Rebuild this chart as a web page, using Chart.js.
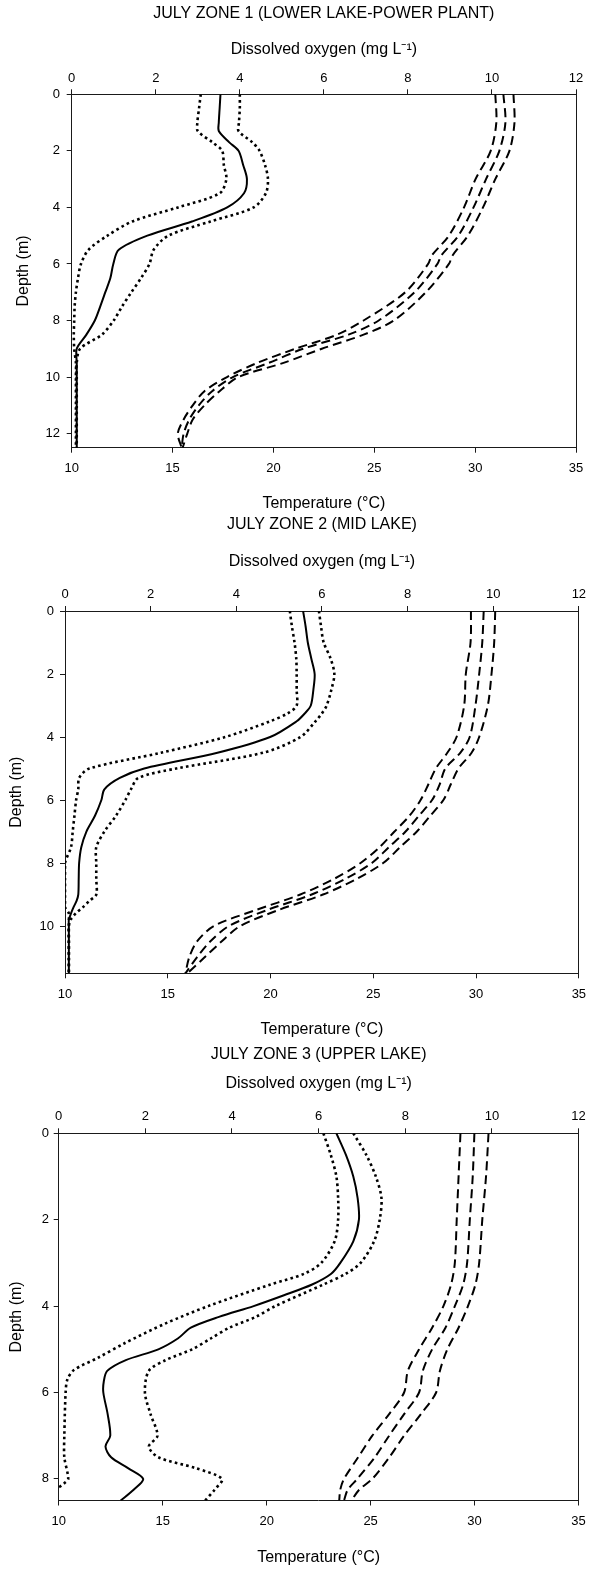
<!DOCTYPE html>
<html>
<head>
<meta charset="utf-8">
<script src="https://cdn.jsdelivr.net/npm/chart.js@4/dist/chart.umd.min.js"></script>
<style>
  html, body { margin: 0; padding: 0; background: #ffffff; }
  #wrap { position: relative; width: 594px; height: 1572px; }
  canvas { position: absolute; left: 0; }
</style>
</head>
<body>
<div id="wrap">
  <canvas id="zone1" width="594" height="515" style="top:0px"></canvas>
  <canvas id="zone2" width="594" height="528" style="top:515px"></canvas>
  <canvas id="zone3" width="594" height="529" style="top:1043px"></canvas>
</div>
<script>
// ---- shared axis ticks ----
const doTicks = [0, 2, 4, 6, 8, 10, 12];
const tempTicks = [10, 15, 20, 25, 30, 35];

// ---- Zone 1 (lower lake - power plant) ----
const z1Title = 'JULY ZONE 1 (LOWER LAKE-POWER PLANT)';
const z1DepthTicks = [0, 2, 4, 6, 8, 10, 12];
const z1DepthMax = 12.5;
const z1DoDepth = [0, 0.5, 1, 1.3, 1.7, 2, 2.5, 3, 3.5, 4, 4.5, 5, 5.5, 6, 6.5, 7, 7.5, 8, 8.5, 9, 9.5, 10, 11, 12, 12.5];
const z1DoMean  = [3.54, 3.52, 3.5, 3.5, 3.75, 3.97, 4.08, 4.17, 4.1, 3.7, 2.86, 1.8, 1.12, 0.99, 0.92, 0.8, 0.68, 0.55, 0.35, 0.12, 0.12, 0.12, 0.12, 0.12, 0.12];
const z1DoLow   = [3.07, 3.03, 2.99, 3.0, 3.35, 3.58, 3.62, 3.68, 3.52, 2.53, 1.44, 0.85, 0.4, 0.22, 0.15, 0.1, 0.07, 0.06, 0.05, 0.06, 0.1, 0.1, 0.1, 0.1, 0.1];
const z1DoHigh  = [4.0, 4.0, 3.98, 3.97, 4.3, 4.47, 4.6, 4.67, 4.62, 4.33, 3.3, 2.3, 1.95, 1.85, 1.65, 1.42, 1.2, 1.0, 0.72, 0.2, 0.12, 0.12, 0.12, 0.12, 0.12];
const z1TempDepth = [0, 1, 2, 3, 4, 5, 5.7, 6, 7, 8, 8.5, 9, 9.5, 10, 10.5, 11, 11.5, 12, 12.5];
const z1TempLow  = [31.0, 31.05, 30.77, 30.02, 29.45, 28.7, 27.85, 27.67, 26.54, 24.47, 23.16, 21.09, 19.2, 17.7, 16.58, 16.0, 15.55, 15.26, 15.45];
const z1TempMean = [31.4, 31.5, 31.2, 30.54, 29.92, 29.17, 28.32, 28.13, 27.0, 25.22, 23.72, 21.47, 19.77, 17.99, 16.96, 16.3, 15.83, 15.55, 15.45];
const z1TempHigh = [31.9, 31.95, 31.7, 31.0, 30.39, 29.64, 28.88, 28.7, 27.56, 25.97, 24.47, 22.4, 20.5, 18.27, 17.33, 16.58, 16.0, 15.73, 15.5];

// ---- Zone 2 (mid lake) ----
const z2Title = 'JULY ZONE 2 (MID LAKE)';
const z2DepthTicks = [0, 2, 4, 6, 8, 10];
const z2DepthMax = 11.5;
const z2DoDepth = [0, 0.5, 1, 1.5, 2, 2.5, 3, 3.25, 3.5, 4, 4.5, 5, 5.3, 5.66, 6, 6.5, 7, 7.5, 8, 8.5, 9, 9.2, 9.4, 9.6, 9.8, 10, 10.5, 11, 11.5];
const z2DoMean  = [5.56, 5.62, 5.67, 5.75, 5.83, 5.8, 5.74, 5.6, 5.41, 4.79, 3.56, 1.85, 1.28, 0.92, 0.85, 0.7, 0.5, 0.38, 0.33, 0.32, 0.31, 0.27, 0.2, 0.14, 0.09, 0.09, 0.09, 0.09, 0.09];
const z2DoLow   = [5.25, 5.3, 5.36, 5.4, 5.41, 5.41, 5.41, 5.2, 4.79, 3.74, 2.24, 0.57, 0.33, 0.31, 0.26, 0.22, 0.18, 0.14, 0.0, 0.0, 0.0, 0.0, 0.0, 0.09, 0.09, 0.09, 0.09, 0.09, 0.09];
const z2DoHigh  = [5.93, 5.98, 6.04, 6.2, 6.29, 6.22, 6.11, 6.0, 5.85, 5.5, 4.62, 2.6, 1.71, 1.54, 1.41, 1.19, 0.92, 0.73, 0.73, 0.73, 0.73, 0.57, 0.42, 0.25, 0.13, 0.09, 0.09, 0.09, 0.09];
const z2TempDepth = [0, 1, 2, 3, 4, 4.5, 5, 5.5, 6, 6.5, 7, 7.5, 8, 8.5, 9, 9.5, 10, 10.5, 11, 11.5];
const z2TempLow  = [29.75, 29.73, 29.5, 29.42, 29.05, 28.6, 28.04, 27.68, 27.3, 26.76, 26.03, 25.3, 24.38, 23.1, 21.45, 19.25, 17.24, 16.41, 16.04, 15.86];
const z2TempMean = [30.37, 30.3, 30.15, 29.97, 29.69, 29.23, 28.5, 28.23, 27.86, 27.22, 26.57, 25.75, 24.93, 23.65, 22.0, 19.8, 17.97, 17.05, 16.41, 15.86];
const z2TempHigh = [30.93, 30.88, 30.75, 30.57, 30.15, 29.78, 29.14, 28.77, 28.41, 27.77, 27.12, 26.3, 25.48, 24.2, 22.55, 20.35, 18.52, 17.6, 16.78, 15.95];

// ---- Zone 3 (upper lake) ----
const z3Title = 'JULY ZONE 3 (UPPER LAKE)';
const z3DepthTicks = [0, 2, 4, 6, 8];
const z3DepthMax = 8.5;
const z3DoMeanDepth = [0, 0.5, 1, 1.5, 2, 2.5, 3, 3.25, 3.5, 3.75, 4, 4.25, 4.5, 4.75, 5, 5.25, 5.5, 5.75, 6, 6.5, 7, 7.25, 7.5, 7.75, 8, 8.25, 8.5];
const z3DoMean = [6.41, 6.63, 6.8, 6.9, 6.93, 6.8, 6.5, 6.29, 5.85, 5.2, 4.5, 3.7, 3.05, 2.75, 2.3, 1.55, 1.12, 1.04, 1.03, 1.13, 1.19, 1.08, 1.21, 1.6, 1.95, 1.73, 1.43];
const z3DoLowDepth = [0, 0.5, 1, 1.5, 2, 2.5, 3, 3.25, 3.5, 4, 4.4, 4.86, 5.2, 5.48, 5.7, 6, 7, 7.5, 8, 8.1, 8.2];
const z3DoLow = [6.11, 6.28, 6.41, 6.45, 6.45, 6.37, 6.06, 5.67, 4.89, 3.45, 2.47, 1.52, 0.9, 0.35, 0.2, 0.16, 0.13, 0.13, 0.22, 0.13, 0.0];
const z3DoHighDepth = [0, 0.5, 1, 1.5, 2, 2.5, 3, 3.25, 3.5, 4, 4.25, 4.5, 4.75, 5, 5.25, 5.5, 6, 6.5, 7, 7.25, 7.5, 7.75, 8, 8.25, 8.5];
const z3DoHigh = [6.8, 7.1, 7.32, 7.45, 7.41, 7.28, 6.97, 6.63, 6.11, 5.0, 4.55, 3.94, 3.51, 3.08, 2.47, 2.08, 1.99, 2.12, 2.28, 2.08, 2.3, 3.16, 3.77, 3.6, 3.38];
const z3TempDepth = [0, 1, 2, 3, 3.5, 4, 4.5, 5, 5.5, 6, 6.5, 7, 7.5, 8, 8.25, 8.5];
const z3TempLow  = [29.32, 29.23, 29.14, 29.05, 28.87, 28.5, 27.96, 27.33, 26.79, 26.61, 25.89, 25.08, 24.4, 23.72, 23.54, 23.49];
const z3TempMean = [29.99, 29.91, 29.77, 29.64, 29.45, 29.05, 28.6, 27.96, 27.51, 27.33, 26.61, 25.89, 25.2, 24.36, 23.9, 23.72];
const z3TempHigh = [30.67, 30.55, 30.37, 30.22, 30.04, 29.68, 29.23, 28.69, 28.33, 28.15, 27.42, 26.61, 25.9, 25.08, 24.45, 24.08];

// ---- drawing ----
const FONT = "'Liberation Sans', Arial, Helvetica, sans-serif";
const INK = '#000000';
const AXIS = '#1a1a1a';

function pts(xs, ys) {
  return xs.map((x, i) => ({ x: x, y: ys[i] }));
}

function line(data, axis, style) {
  const base = {
    data: data,
    xAxisID: axis,
    yAxisID: 'y',
    showLine: true,
    fill: false,
    pointRadius: 0,
    pointHoverRadius: 0,
    borderColor: INK,
    tension: 0.3,
    borderCapStyle: 'butt',
    borderJoinStyle: 'round'
  };
  if (style === 'solid') { base.borderWidth = 2; }
  if (style === 'dotted') { base.borderWidth = 2.6; base.borderDash = [2.6, 3.2]; }
  if (style === 'dashed') { base.borderWidth = 2; base.borderDash = [9, 5]; }
  return base;
}

function fixTicks(values) {
  return (scale) => { scale.ticks = values.map(v => ({ value: v })); };
}

function panel(id, p, L) {
  const datasets = [
    line(pts(p.tLow, p.tDepth), 'x', 'dashed'),
    line(pts(p.tMean, p.tDepth), 'x', 'dashed'),
    line(pts(p.tHigh, p.tDepth), 'x', 'dashed'),
    line(pts(p.dLow, p.dLowDepth), 'x2', 'dotted'),
    line(pts(p.dHigh, p.dHighDepth), 'x2', 'dotted'),
    line(pts(p.dMean, p.dMeanDepth), 'x2', 'solid')
  ];
  const tickFont = { family: FONT, size: 13, weight: 'normal' };
  const titleFont = { family: FONT, size: 16, weight: 'normal' };
  new Chart(document.getElementById(id), {
    type: 'scatter',
    data: { datasets: datasets },
    options: {
      responsive: false,
      animation: false,
      events: [],
      layout: { padding: { top: 0, bottom: 0, left: 0, right: L.padRight } },
      plugins: {
        legend: { display: false },
        tooltip: { enabled: false },
        title: {
          display: true,
          text: p.title,
          color: INK,
          font: titleFont,
          fullSize: false,
          padding: { top: L.titleTop, bottom: 0 }
        }
      },
      scales: {
        x: {
          type: 'linear', axis: 'x', position: 'bottom',
          min: 10, max: 35,
          afterBuildTicks: fixTicks(tempTicks),
          afterFit: (s) => { s.height = L.bottomH; },
          ticks: { color: INK, font: tickFont, padding: L.bottomTickPad, maxRotation: 0 },
          grid: { display: true, drawOnChartArea: false, drawTicks: true, tickLength: 5, color: AXIS, lineWidth: 1 },
          border: { display: true, color: AXIS, width: 1 },
          title: { display: true, text: 'Temperature (°C)', color: INK, font: titleFont, padding: { top: 0, bottom: L.bottomTitlePad } }
        },
        x2: {
          type: 'linear', axis: 'x', position: 'top',
          min: 0, max: 12,
          afterBuildTicks: fixTicks(doTicks),
          afterFit: (s) => { s.height = L.topH; },
          ticks: { color: INK, font: tickFont, padding: L.topTickPad, maxRotation: 0 },
          grid: { display: true, drawOnChartArea: false, drawTicks: true, tickLength: 5, color: AXIS, lineWidth: 1 },
          border: { display: true, color: AXIS, width: 1 },
          title: { display: true, text: 'Dissolved oxygen (mg L⁻¹)', color: INK, font: titleFont, padding: { top: L.topTitlePad, bottom: 0 } }
        },
        y: {
          type: 'linear', axis: 'y', position: 'left',
          reverse: true, min: 0, max: p.depthMax,
          afterBuildTicks: fixTicks(p.depthTicks),
          afterFit: (s) => { s.width = L.leftW; },
          ticks: { color: INK, font: tickFont, padding: L.leftTickPad },
          grid: { display: true, drawOnChartArea: false, drawTicks: true, tickLength: 5, color: AXIS, lineWidth: 1 },
          border: { display: true, color: AXIS, width: 1 },
          title: { display: true, text: 'Depth (m)', color: INK, font: titleFont, padding: { top: L.leftTitlePad, bottom: 0 } }
        },
        yr: {
          type: 'linear', axis: 'y', position: 'right',
          min: 0, max: 1,
          afterFit: (s) => { s.width = 0; },
          ticks: { display: false },
          grid: { display: true, drawOnChartArea: false, drawTicks: false, color: AXIS },
          border: { display: true, color: AXIS, width: 1 }
        }
      }
    }
  });
}

panel('zone1', {
  title: z1Title, depthTicks: z1DepthTicks, depthMax: z1DepthMax,
  dMeanDepth: z1DoDepth, dMean: z1DoMean,
  dLowDepth: z1DoDepth, dLow: z1DoLow,
  dHighDepth: z1DoDepth, dHigh: z1DoHigh,
  tDepth: z1TempDepth, tLow: z1TempLow, tMean: z1TempMean, tHigh: z1TempHigh
}, {
  padRight: 18, titleTop: 4.4, topH: 70.7, topTitlePad: 16.8, topTickPad: 3.2,
  bottomH: 67.3, bottomTickPad: 7.8, bottomTitlePad: 2.1,
  leftW: 71.7, leftTitlePad: 13.7, leftTickPad: 6.7
});

panel('zone2', {
  title: z2Title, depthTicks: z2DepthTicks, depthMax: z2DepthMax,
  dMeanDepth: z2DoDepth, dMean: z2DoMean,
  dLowDepth: z2DoDepth, dLow: z2DoLow,
  dHighDepth: z2DoDepth, dHigh: z2DoHigh,
  tDepth: z2TempDepth, tLow: z2TempLow, tMean: z2TempMean, tHigh: z2TempHigh
}, {
  padRight: 10.5, titleTop: 0.4, topH: 76.4, topTitlePad: 17.5, topTickPad: 4.2,
  bottomH: 69.7, bottomTickPad: 7.9, bottomTitlePad: 3.6,
  leftW: 65, leftTitlePad: 7.4, leftTickPad: 6
});

panel('zone3', {
  title: z3Title, depthTicks: z3DepthTicks, depthMax: z3DepthMax,
  dMeanDepth: z3DoMeanDepth, dMean: z3DoMean,
  dLowDepth: z3DoLowDepth, dLow: z3DoLow,
  dHighDepth: z3DoHighDepth, dHigh: z3DoHigh,
  tDepth: z3TempDepth, tLow: z3TempLow, tMean: z3TempMean, tHigh: z3TempHigh
}, {
  padRight: 10.5, titleTop: 2.4, topH: 68.7, topTitlePad: 9.1, topTickPad: 4.5,
  bottomH: 71.5, bottomTickPad: 8.2, bottomTitlePad: 4.9,
  leftW: 58.7, leftTitlePad: 7.4, leftTickPad: 4.7
});
</script>
</body>
</html>
